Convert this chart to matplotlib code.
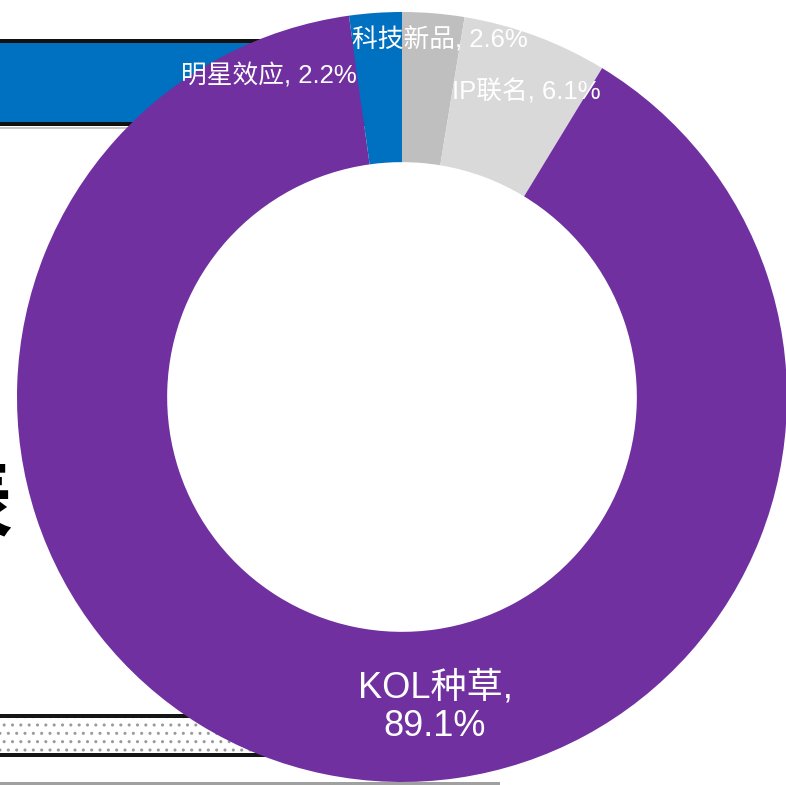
import matplotlib
matplotlib.use("Agg")
import matplotlib.pyplot as plt
from matplotlib.patches import Rectangle

# ---- data ----
categories = ["科技新品", "IP联名", "KOL种草", "明星效应"]
values = [2.6, 6.1, 89.1, 2.2]
colors = ["#BFBFBF", "#D9D9D9", "#7030A0", "#0070C0"]

W, H = 786, 785
fig = plt.figure(figsize=(W / 100, H / 100), dpi=100)
fig.patch.set_facecolor("white")

def fx(px):
    return px / W

def fy(py):
    return 1 - py / H

# ---- background slide decorations ----
deco = []
# blue banner at top-left
deco.append(Rectangle((0, fy(126)), fx(430), (126 - 40) / H, facecolor="#0070C0", edgecolor="none"))
deco.append(Rectangle((0, fy(43)), fx(430), 4 / H, facecolor="#111111", edgecolor="none"))
deco.append(Rectangle((0, fy(126)), fx(430), 4 / H, facecolor="#111111", edgecolor="none"))
deco.append(Rectangle((0, fy(128.5)), fx(430), 2 / H, facecolor="#C8C8C8", edgecolor="none"))
# dotted band at bottom-left
deco.append(Rectangle((0, fy(755)), fx(500), (755 - 715) / H, facecolor="white",
                      edgecolor="#9A9A9A", hatch="..", linewidth=0))
deco.append(Rectangle((0, fy(718)), fx(500), 4 / H, facecolor="#151515", edgecolor="none"))
deco.append(Rectangle((0, fy(757)), fx(500), 4 / H, facecolor="#151515", edgecolor="none"))
deco.append(Rectangle((0, fy(785)), fx(500), 3 / H, facecolor="#A0A0A0", edgecolor="none"))
for p in deco:
    p.set_transform(fig.transFigure)
    p.set_zorder(0)
    fig.add_artist(p)

# fragment of a big bold character at the left edge (cut off in the reference too)
fig.text(fx(12), fy(505), "表", ha="right", va="center", fontsize=62,
         fontweight="bold", family=["Noto Sans CJK SC"], color="black", zorder=1)

# ---- donut ----
cx, cy, R = 402, 397, 385
ax = fig.add_axes([fx(cx - R), fy(cy + R), 2 * R / W, 2 * R / H], zorder=2)
ax.patch.set_visible(False)
wedges, _ = ax.pie(values, colors=colors, startangle=90, counterclock=False,
                   radius=1, wedgeprops=dict(width=0.39, linewidth=0))
ax.set_xlim(-1, 1)
ax.set_ylim(-1, 1)
ax.set_aspect("auto")
ax.axis("off")

def dpos(px, py):
    return (px - cx) / R, (cy - py) / R

fam = ["Liberation Sans", "Noto Sans CJK SC"]
label_px = {
    "科技新品": (440, 40, 18.5),
    "IP联名": (526, 92, 18.5),
    "明星效应": (269, 76, 18.5),
}
for cat, v in zip(categories, values):
    if cat in label_px:
        px, py, fs = label_px[cat]
        x, y = dpos(px, py)
        ax.text(x, y, f"{cat}, {v}%", ha="center", va="center", color="white",
                fontsize=fs, family=fam)
    else:
        x, y = dpos(435, 707)
        ax.text(x, y, f"{cat},\n{v}%", ha="center", va="center", color="white",
                fontsize=26, family=fam, linespacing=1.12)

fig.savefig("out.png", dpi=100, facecolor="white")
